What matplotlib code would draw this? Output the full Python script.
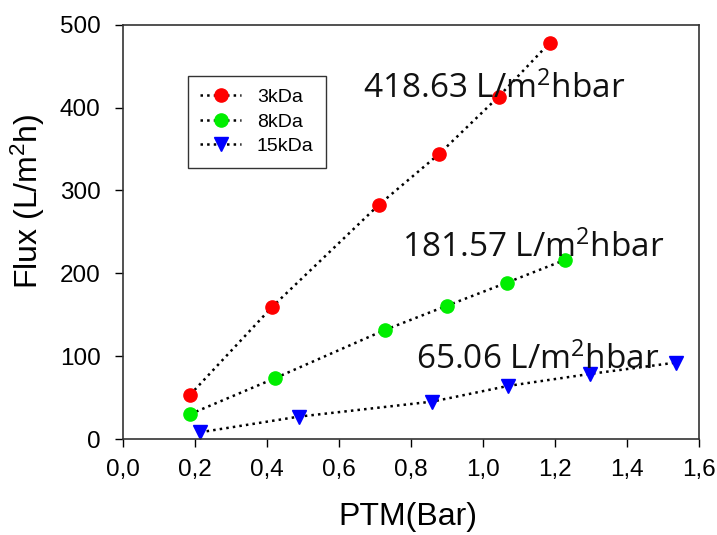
import numpy as np
import matplotlib.pyplot as plt
from matplotlib.ticker import FuncFormatter

# values
ptm_3k = [0.187, 0.416, 0.711, 0.879, 1.044, 1.186]
flux_3k = [53.5, 160, 282.6, 344.2, 413.3, 478.4]
ptm_8k = [0.187, 0.423, 0.728, 0.899, 1.067, 1.228]
flux_8k = [30.2, 73.6, 131.8, 160.8, 188.9, 216.3]
ptm_15k = [0.215, 0.490, 0.860, 1.070, 1.298, 1.535]
flux_15k = [8.4, 27.3, 45.4, 64.3, 78.8, 92.4]

slopes = ["418.63", "181.57", "65.06"]
slope_pos = [(0.668, 411.5), (0.775, 219.7), (0.815, 84.8)]

x_ticks = np.arange(0, 1.61, 0.2)
y_ticks = np.arange(0, 501, 100)

plt.rcParams['font.family'] = ['Liberation Sans', 'DejaVu Sans']

fig = plt.figure(figsize=(7.17, 5.35), dpi=100)
ax = fig.add_axes([0.171, 0.179, 0.804, 0.775])

series = [
    (ptm_3k, flux_3k, '#ff0000', 'o', 9.5, '3kDa'),
    (ptm_8k, flux_8k, '#00ee00', 'o', 9.5, '8kDa'),
    (ptm_15k, flux_15k, '#0000ff', 'v', 10.5, '15kDa'),
]
for xs, ys, col, mk, ms, lab in series:
    ax.plot(xs, ys, linestyle=':', color='black', linewidth=1.8,
            marker=mk, markersize=ms, markerfacecolor=col,
            markeredgecolor=col, label=lab)

for s, (tx, ty) in zip(slopes, slope_pos):
    ax.text(tx, ty, s + r" L/m$\mathregular{^2}$hbar", fontsize=24, family='Open Sans',
            color='#111111', va='baseline', ha='left')

ax.set_xlim(0, 1.6)
ax.set_ylim(0, 500)
ax.set_xticks(x_ticks)
ax.set_yticks(y_ticks)
ax.xaxis.set_major_formatter(FuncFormatter(lambda v, p: f"{v:.1f}".replace('.', ',')))
ax.tick_params(direction='out', length=6, width=1, labelsize=17.5)
ax.tick_params(axis='x', pad=8)
ax.tick_params(axis='y', pad=10)
for sp in ax.spines.values():
    sp.set_linewidth(1.2)
    sp.set_color('#333333')

ax.set_xlabel("PTM(Bar)", fontsize=23)
ax.set_ylabel(r"Flux (L/m$\mathregular{^2}$h)", fontsize=23)
ax.xaxis.label.set_va('center')
ax.yaxis.label.set_va('center')
ax.xaxis.set_label_coords(0.495, -0.188)
ax.yaxis.set_label_coords(-0.164, 0.575)

leg = ax.legend(loc='upper left', bbox_to_anchor=(0.113, 0.876), borderaxespad=0,
                fontsize=14, frameon=True, fancybox=False, edgecolor='black',
                handlelength=2.1, handletextpad=0.8, borderpad=0.65,
                labelspacing=0.35)
leg.get_frame().set_linewidth(1.0)

fig.savefig("out.png", dpi=100)
